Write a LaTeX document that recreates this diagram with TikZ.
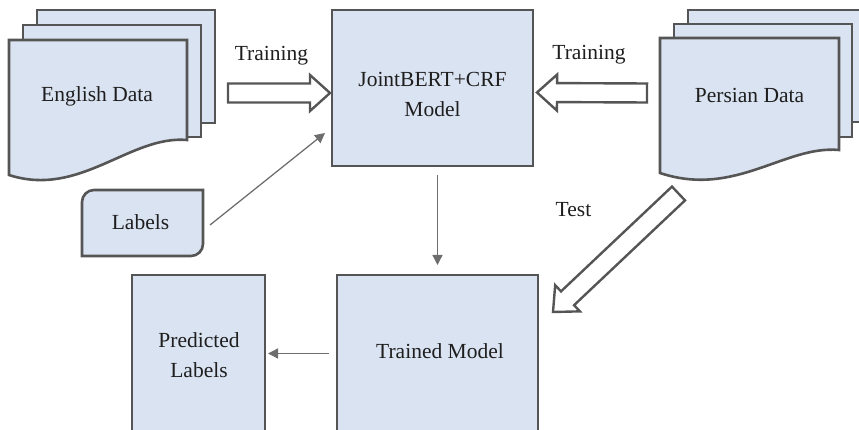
\documentclass[tikz,border=0pt]{standalone}
\usepackage{fontspec}
\setmainfont{Liberation Serif}
\usetikzlibrary{arrows.meta,calc}

\definecolor{boxfill}{HTML}{DAE3F1}
\definecolor{boxline}{HTML}{555555}
\definecolor{connline}{HTML}{6E6E6E}
\definecolor{txt}{HTML}{1E1E1E}

\tikzset{
  shapeline/.style={draw=boxline, line width=2.6pt, fill=boxfill, line join=miter},
  boxnode/.style={shapeline, rectangle, inner sep=0pt, outer sep=0pt},
  areanode/.style={rectangle, inner sep=0pt, outer sep=0pt},
  lbl/.style={text=txt, font=\fontsize{21.5}{30}\selectfont, inner sep=0pt, align=center},
  conn/.style={draw=connline, line width=1.3pt, -{Triangle[length=10pt,width=10pt]}},
  blockarr/.style={draw=boxline, line width=2.4pt, fill=white, line join=miter},
}

% hollow block arrow: #1 name, #2 tail coordinate, #3 tip coordinate
\newcommand\hollowarrow[3]{%
  \coordinate (#1-h) at ($(#3)!20pt!(#2)$);
  \draw[blockarr] ($(#2)!9.5pt!90:(#3)$) -- ($(#1-h)!9.5pt!90:(#3)$)
    -- ($(#1-h)!18pt!90:(#3)$) -- (#3) -- ($(#1-h)!18pt!-90:(#3)$)
    -- ($(#1-h)!9.5pt!-90:(#3)$) -- ($(#2)!9.5pt!-90:(#3)$) -- cycle;
}

\begin{document}
\begin{tikzpicture}[x=1pt, y=-1pt]
  \useasboundingbox (0,0) rectangle (859,430);
  \clip (0,0) rectangle (859,430);

  % English data: stack of three sheets
  \draw[shapeline] (37,10) rectangle (215,123);
  \draw[shapeline] (23,25) rectangle (201,137);
  \draw[shapeline] (9,40) -- (187,40) -- (187,140)
    .. controls (130,135) and (80,198) .. (9,175) -- cycle;
  \node[lbl, anchor=base] (eng) at (97,102) {English Data};

  % Persian data: stack of three sheets
  \draw[shapeline] (688,10) rectangle (866,122);
  \draw[shapeline] (674,24) rectangle (852,137);
  \draw[shapeline] (660,38) -- (839,38) -- (839,150)
    .. controls (785,145) and (735,198) .. (660,173) -- cycle;
  \node[lbl, anchor=base] (per) at (749.5,103) {Persian Data};

  % Labels: two diagonal corners rounded
  \node[areanode, minimum width=121pt, minimum height=66pt] (labels) at (142.5,223) {};
  \draw[shapeline] (82,256) -- (82,202) .. controls (82,195.4) and (87.4,190) .. (94,190)
    -- (203,190) -- (203,244) .. controls (203,250.6) and (197.6,256) .. (191,256) -- cycle;
  \node[lbl, anchor=base] (labelstxt) at (140.5,230) {Labels};

  % model boxes
  \node[boxnode, minimum width=201pt, minimum height=156pt] (model) at (432.5,88) {};
  \node[lbl] (modeltxt) at (432.5,94) {JointBERT+CRF\\Model};

  \node[boxnode, minimum width=201pt, minimum height=175pt, anchor=north] (trained) at (437.5,275) {};
  \node[lbl, anchor=base] (trainedtxt) at (440,358) {Trained Model};

  \node[boxnode, minimum width=133pt, minimum height=175pt, anchor=north] (pred) at (198.5,275) {};
  \node[lbl] (predtxt) at (199,355) {Predicted\\Labels};

  % block arrows
  \coordinate (engout) at (228,93);
  \coordinate (modelinL) at (330,93);
  \coordinate (perout) at (647,93);
  \coordinate (modelinR) at (537,92.5);
  \coordinate (pertest) at (678.5,193.5);
  \coordinate (trainedin) at (553,312);
  \hollowarrow{trainL}{engout}{modelinL}
  \hollowarrow{trainR}{perout}{modelinR}
  \hollowarrow{testA}{pertest}{trainedin}

  \node[lbl, anchor=base] (trainLtxt) at (271.5,61) {Training};
  \node[lbl, anchor=base] (trainRtxt) at (589,60) {Training};
  \node[lbl, anchor=base] (testtxt) at (573.5,217) {Test};

  % thin connectors
  \draw[conn] ([xshift=7pt,yshift=-2pt]labels.east) -- ([xshift=-7pt,yshift=33pt]model.south west);
  \draw[conn] ([yshift=-9pt]model.south -| trained.north) -- ([yshift=10pt]trained.north);
  \draw[conn] ([xshift=-8pt,yshift=9pt]trained.west) -- ([xshift=3pt,yshift=9pt]pred.east);
\end{tikzpicture}
\end{document}
